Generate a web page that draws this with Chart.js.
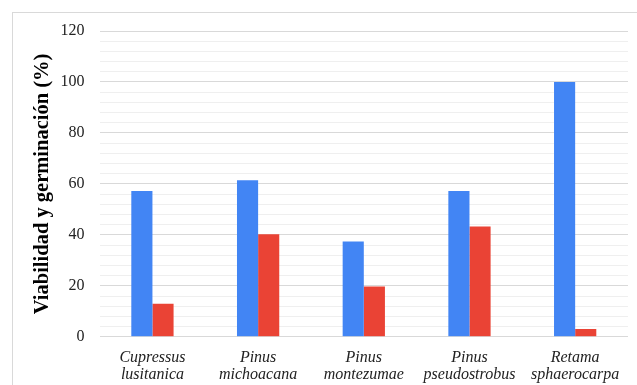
<!DOCTYPE html>
<html>
<head>
<meta charset="utf-8">
<script src="https://cdn.jsdelivr.net/npm/chart.js@4"></script>
<style>
  body { margin: 0; background: #fff; }
  #frame { position: absolute; left: 12px; top: 12px; width: 640px; height: 390px; border-left: 1px solid #d9d9d9; border-top: 1px solid #d9d9d9; }
  #wrap { position: absolute; left: 0; top: 0; width: 637px; height: 385px; }
</style>
</head>
<body>
<div id="frame"></div>
<div id="wrap"><canvas id="chart"></canvas></div>
<script>
// species on the x axis (two lines each)
const species = [
    ['Cupressus', 'lusitanica'],
    ['Pinus', 'michoacana'],
    ['Pinus', 'montezumae'],
    ['Pinus', 'pseudostrobus'],
    ['Retama', 'sphaerocarpa']
];
// values (%)
const viabilidad = [57.2, 61.4, 37.4, 57.2, 100];
const germinacion = [13, 40.2, 19.7, 43.3, 3.1];
const yTitle = 'Viabilidad y germinación (%)';

document.addEventListener("DOMContentLoaded", function() {
    const ctx = document.getElementById('chart').getContext('2d');
    new Chart(ctx, {
        type: 'bar',
        data: {
            labels: species,
            datasets: [
                {
                    label: 'Viabilidad',
                    data: viabilidad,
                    backgroundColor: '#4285F4',
                    categoryPercentage: 0.4,
                    barPercentage: 1.0
                },
                {
                    label: 'Germinación',
                    data: germinacion,
                    backgroundColor: '#EA4335',
                    categoryPercentage: 0.4,
                    barPercentage: 1.0
                }
            ]
        },
        options: {
            responsive: true,
            maintainAspectRatio: false,
            animation: false,
            layout: { padding: { left: 30, right: 9, top: 31, bottom: -3 } },
            plugins: {
                legend: { display: false },
                tooltip: { enabled: false }
            },
            scales: {
                x: {
                    grid: { display: false },
                    border: { display: false },
                    ticks: {
                        color: '#222',
                        padding: 4,
                        font: { family: 'Liberation Serif', size: 16, style: 'italic', lineHeight: 1.1 },
                        maxRotation: 0
                    }
                },
                y: {
                    min: 0,
                    max: 120,
                    border: { display: false },
                    grid: {
                        drawTicks: false,
                        color: c => (c.tick.value % 20 === 0 ? '#d9d9d9' : '#efefef'),
                        lineWidth: 1
                    },
                    ticks: {
                        stepSize: 4,
                        autoSkip: false,
                        padding: 15,
                        color: '#222',
                        font: { family: 'Liberation Serif', size: 16 },
                        callback: v => (v % 20 === 0 ? v : '')
                    },
                    title: {
                        display: true,
                        text: yTitle,
                        color: '#000',
                        padding: { top: 0, bottom: -9 },
                        font: { family: 'Liberation Serif', size: 20.5, weight: 'bold' }
                    }
                }
            }
        }
    });
});
</script>
</body>
</html>
